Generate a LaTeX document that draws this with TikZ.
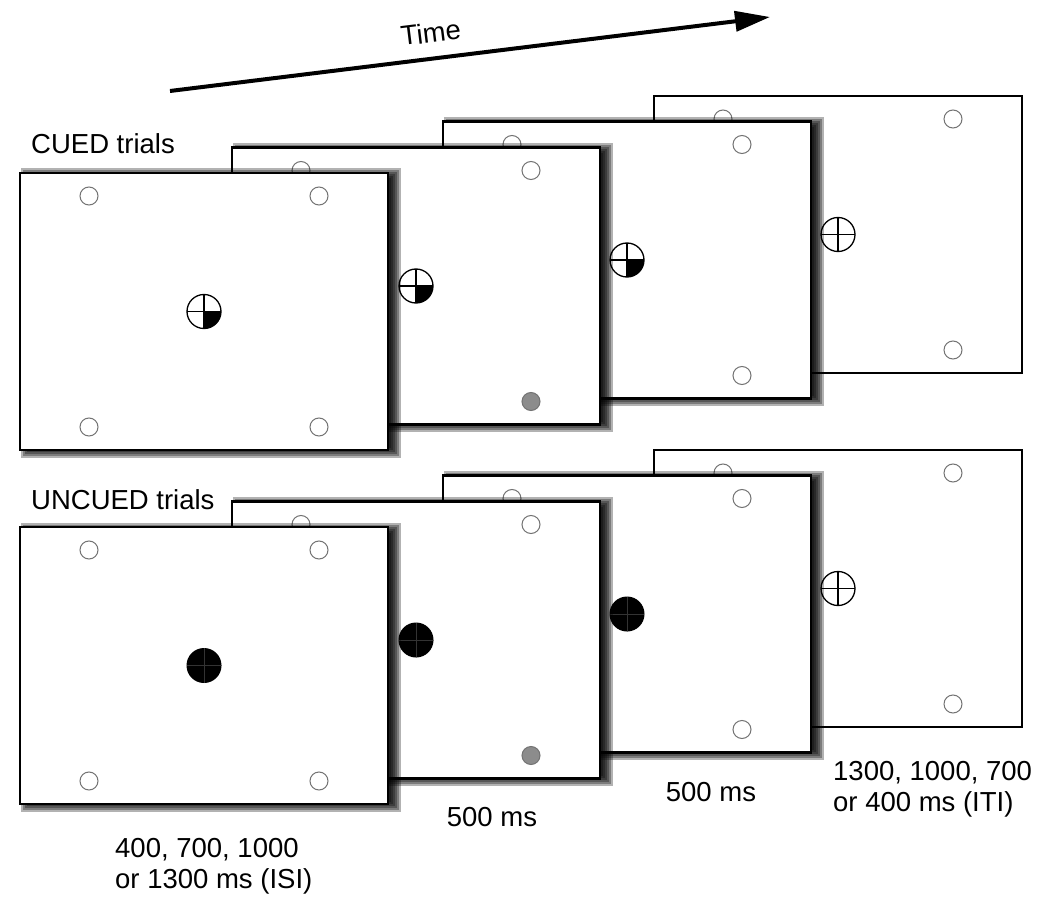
\documentclass[tikz,border=0pt]{standalone}
\usepackage{fontspec}
\setmainfont{Liberation Sans}
\usetikzlibrary{arrows.meta}

\tikzset{
    screen/.style={draw, line width=2.5pt, fill=white, minimum width=368pt, minimum height=277pt, inner sep=0, outer sep=0},
    place/.style={circle, draw=black!55, line width=1pt, fill=white, minimum size=18pt, inner sep=0},
    target/.style={circle, draw=black!55, line width=1pt, fill=black!45, minimum size=18pt, inner sep=0},
    fixring/.style={circle, draw, line width=1.3pt, fill=white, minimum size=34pt, inner sep=0,
        path picture={\draw[line width=1.3pt] (path picture bounding box.north) -- (path picture bounding box.south)
            (path picture bounding box.west) -- (path picture bounding box.east);}},
    cue/.style={circle, draw, line width=1.3pt, fill=white, minimum size=34pt, inner sep=0,
        path picture={\fill[black] (path picture bounding box.center) rectangle (path picture bounding box.south east);
            \draw[line width=1.3pt] (path picture bounding box.north) -- (path picture bounding box.south)
            (path picture bounding box.west) -- (path picture bounding box.east);}},
    blackdot/.style={circle, fill=black, minimum size=35pt, inner sep=0,
        path picture={\draw[black!80, line width=0.8pt] (path picture bounding box.north) -- (path picture bounding box.south)
            (path picture bounding box.west) -- (path picture bounding box.east);}},
    txt/.style={inner sep=0, font=\fontsize{27.5}{31}\selectfont}
}

% soft shadow behind a screen centred at (#1,#2)
\newcommand{\softshadow}[2]{%
    \foreach \g in {0,2,...,12}
        \fill[black, opacity=0.3] ({#1-171-\g},{#2-131-\g}) rectangle ({#1+185+\g},{#2+134+\g});
}

% three of the four boxes around the centre of a screen
\newcommand{\placeholders}[1]{%
    \node[place] (#1-tl) at ([shift={(-115,-115.5)}]#1.center) {};
    \node[place] (#1-tr) at ([shift={(115,-115.5)}]#1.center) {};
    \node[place] (#1-bl) at ([shift={(-115,115.5)}]#1.center) {};
}

\begin{document}
\begin{tikzpicture}[x=1pt, y=-1pt]
    \useasboundingbox (0,0) rectangle (1050,912);

    % time axis
    \coordinate (tstart) at (170,91);
    \coordinate (tend) at (770,17);
    \draw[line width=4pt, -{Triangle[length=35pt, width=20pt]}] (tstart) -- (tend)
        node[txt, pos=0.44, sloped, above=14pt] (time) {Time};

    % cued trials
    \node[screen] (c4) at (838,234.5) {};
    \placeholders{c4}
    \node[place] (c4-br) at ([shift={(115,115.5)}]c4.center) {};
    \node[fixring] (c4-fix) at (c4.center) {};

    \softshadow{627}{260}
    \node[screen] (c3) at (627,260) {};
    \placeholders{c3}
    \node[place] (c3-br) at ([shift={(115,115.5)}]c3.center) {};
    \node[cue] (c3-fix) at (c3.center) {};

    \softshadow{416}{286}
    \node[screen] (c2) at (416,286) {};
    \placeholders{c2}
    \node[target] (c2-br) at ([shift={(115,115.5)}]c2.center) {};
    \node[cue] (c2-fix) at (c2.center) {};

    \softshadow{204}{311.5}
    \node[screen] (c1) at (204,311.5) {};
    \placeholders{c1}
    \node[place] (c1-br) at ([shift={(115,115.5)}]c1.center) {};
    \node[cue] (c1-fix) at (c1.center) {};

    % uncued trials
    \node[screen] (u4) at (838,588.5) {};
    \placeholders{u4}
    \node[place] (u4-br) at ([shift={(115,115.5)}]u4.center) {};
    \node[fixring] (u4-fix) at (u4.center) {};

    \softshadow{627}{614}
    \node[screen] (u3) at (627,614) {};
    \placeholders{u3}
    \node[place] (u3-br) at ([shift={(115,115.5)}]u3.center) {};
    \node[blackdot] (u3-fix) at (u3.center) {};

    \softshadow{416}{640}
    \node[screen] (u2) at (416,640) {};
    \placeholders{u2}
    \node[target] (u2-br) at ([shift={(115,115.5)}]u2.center) {};
    \node[blackdot] (u2-fix) at (u2.center) {};

    \softshadow{204}{665.5}
    \node[screen] (u1) at (204,665.5) {};
    \placeholders{u1}
    \node[place] (u1-br) at ([shift={(115,115.5)}]u1.center) {};
    \node[blackdot] (u1-fix) at (u1.center) {};

    % labels
    \node[txt, anchor=base west] (cuedlbl) at (31,154) {CUED trials};
    \node[txt, anchor=base west] (uncuedlbl) at (31,509) {UNCUED trials};
    \node[txt, anchor=base west, align=left] (isi) at (115,888) {400, 700, 1000\\or 1300 ms (ISI)};
    \node[txt, anchor=base] (cuetime) at (492,826) {500 ms};
    \node[txt, anchor=base] (targettime) at (711,801) {500 ms};
    \node[txt, anchor=base west, align=left] (iti) at (833,811) {1300, 1000, 700\\or 400 ms (ITI)};
\end{tikzpicture}
\end{document}
